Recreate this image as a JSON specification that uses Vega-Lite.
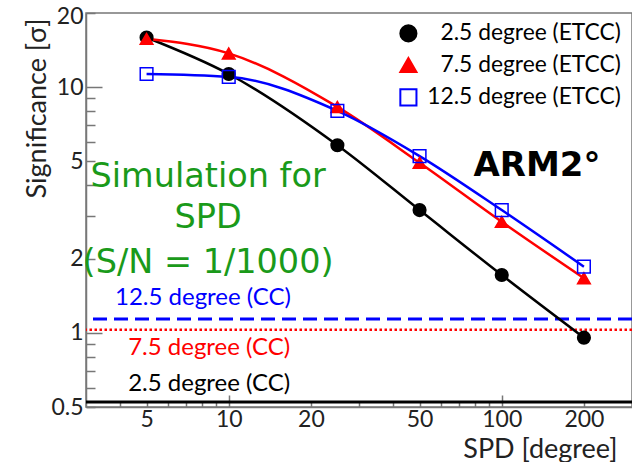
{
  "$schema": "https://vega.github.io/schema/vega-lite/v6.json",
  "width": 546,
  "height": 394,
  "autosize": {"type": "none"},
  "padding": {"left": 86, "top": 13, "right": 0, "bottom": 55},
  "background": "white",
  "config": {"view": {"stroke": "#777", "strokeWidth": 1.5}, "font": "Lato"},
  "datasets": {
    "etcc": [
      {"series": "2.5 degree (ETCC)", "spd": 5, "sig": 15.9},
      {"series": "2.5 degree (ETCC)", "spd": 10, "sig": 11.3},
      {"series": "2.5 degree (ETCC)", "spd": 25, "sig": 5.8},
      {"series": "2.5 degree (ETCC)", "spd": 50, "sig": 3.16},
      {"series": "2.5 degree (ETCC)", "spd": 100, "sig": 1.72},
      {"series": "2.5 degree (ETCC)", "spd": 200, "sig": 0.957},
      {"series": "7.5 degree (ETCC)", "spd": 5, "sig": 15.7},
      {"series": "7.5 degree (ETCC)", "spd": 10, "sig": 13.7},
      {"series": "7.5 degree (ETCC)", "spd": 25, "sig": 8.3},
      {"series": "7.5 degree (ETCC)", "spd": 50, "sig": 4.92},
      {"series": "7.5 degree (ETCC)", "spd": 100, "sig": 2.83},
      {"series": "7.5 degree (ETCC)", "spd": 200, "sig": 1.67},
      {"series": "12.5 degree (ETCC)", "spd": 5, "sig": 11.3},
      {"series": "12.5 degree (ETCC)", "spd": 10, "sig": 11.0},
      {"series": "12.5 degree (ETCC)", "spd": 25, "sig": 8.0},
      {"series": "12.5 degree (ETCC)", "spd": 50, "sig": 5.24},
      {"series": "12.5 degree (ETCC)", "spd": 100, "sig": 3.16},
      {"series": "12.5 degree (ETCC)", "spd": 200, "sig": 1.86}
    ],
    "cc": [
      {"series": "2.5 degree (CC)", "sig": 0.524, "labelSpd": 4.28, "labelSig": 0.62},
      {"series": "7.5 degree (CC)", "sig": 1.03, "labelSpd": 4.28, "labelSig": 0.869},
      {"series": "12.5 degree (CC)", "sig": 1.14, "labelSpd": 3.83, "labelSig": 1.39}
    ],
    "notes": [
      {"kind": "sim", "text": "Simulation for", "spd": 8.4, "sig": 4.31},
      {"kind": "sim", "text": "SPD", "spd": 8.4, "sig": 2.93},
      {"kind": "sim", "text": "(S/N = 1/1000)", "spd": 8.4, "sig": 1.92},
      {"kind": "arm", "text": "ARM2°", "spd": 134.6, "sig": 4.78}
    ]
  },
  "layer": [
    {
      "data": {"name": "cc"},
      "transform": [{"filter": "datum.series === '2.5 degree (CC)'"}],
      "mark": {"type": "rule", "color": "black", "strokeWidth": 3},
      "encoding": {"y": {"field": "sig", "type": "quantitative", "scale": {"type": "log", "domain": [0.5, 20]}}}
    },
    {
      "data": {"name": "cc"},
      "transform": [{"filter": "datum.series === '7.5 degree (CC)'"}],
      "mark": {"type": "rule", "color": "#ff0000", "strokeWidth": 2.5, "strokeDash": [2.5, 2.5]},
      "encoding": {"y": {"field": "sig", "type": "quantitative", "scale": {"type": "log", "domain": [0.5, 20]}}}
    },
    {
      "data": {"name": "cc"},
      "transform": [{"filter": "datum.series === '12.5 degree (CC)'"}],
      "mark": {"type": "rule", "color": "#0000ff", "strokeWidth": 3, "strokeDash": [14, 7]},
      "encoding": {"y": {"field": "sig", "type": "quantitative", "scale": {"type": "log", "domain": [0.5, 20]}}}
    },
    {
      "data": {"name": "etcc"},
      "transform": [{"filter": "datum.series === '2.5 degree (ETCC)'"}],
      "mark": {"type": "line", "interpolate": "monotone", "strokeWidth": 2.5, "color": "black"},
      "encoding": {
        "x": {"field": "spd", "type": "quantitative", "scale": {"type": "log", "domain": [3, 300]}},
        "y": {"field": "sig", "type": "quantitative", "scale": {"type": "log", "domain": [0.5, 20]}}
      }
    },
    {
      "data": {"name": "etcc"},
      "transform": [{"filter": "datum.series === '7.5 degree (ETCC)'"}],
      "mark": {"type": "line", "interpolate": "monotone", "strokeWidth": 2.5, "color": "#ff0000"},
      "encoding": {
        "x": {"field": "spd", "type": "quantitative", "scale": {"type": "log", "domain": [3, 300]}},
        "y": {"field": "sig", "type": "quantitative", "scale": {"type": "log", "domain": [0.5, 20]}}
      }
    },
    {
      "data": {"name": "etcc"},
      "transform": [{"filter": "datum.series === '12.5 degree (ETCC)'"}],
      "mark": {"type": "line", "interpolate": "monotone", "strokeWidth": 2.5, "color": "#0000ff"},
      "encoding": {
        "x": {"field": "spd", "type": "quantitative", "scale": {"type": "log", "domain": [3, 300]}},
        "y": {"field": "sig", "type": "quantitative", "scale": {"type": "log", "domain": [0.5, 20]}}
      }
    },
    {
      "data": {"name": "etcc"},
      "mark": {"type": "point", "size": 160, "strokeWidth": 1.5, "opacity": 1},
      "encoding": {
        "x": {"field": "spd", "type": "quantitative", "scale": {"type": "log", "domain": [3, 300]},
          "axis": {
            "values": [4, 5, 6, 7, 8, 9, 10, 20, 30, 40, 50, 60, 70, 80, 90, 100, 200],
            "format": "~g",
            "labelExpr": "(datum.value==5||datum.value==10||datum.value==20||datum.value==50||datum.value==100||datum.value==200)?datum.label:''",
            "tickSize": {"condition": {"test": "datum.value==10||datum.value==100", "value": -12}, "value": -6},
            "labelPadding": {"condition": {"test": "datum.value==10||datum.value==100", "value": 24}, "value": 18},
            "tickColor": "#777", "tickWidth": 1.5, "domainColor": "#777", "domainWidth": 1.5,
            "labelFontSize": 23, "labelColor": "#222", "labelBaseline": "middle",
            "labelFlush": false, "labelOverlap": false, "grid": false,
            "title": "SPD [degree]", "titleFontSize": 27, "titleFontWeight": "normal", "titleColor": "#222",
            "titleX": 531, "titleY": 42, "titleAlign": "right", "titleBaseline": "middle"
          }},
        "y": {"field": "sig", "type": "quantitative", "scale": {"type": "log", "domain": [0.5, 20]},
          "axis": {
            "values": [0.5, 0.6, 0.7, 0.8, 0.9, 1, 2, 3, 4, 5, 6, 7, 8, 9, 10, 20],
            "format": "~g",
            "labelExpr": "(datum.value==0.5||datum.value==1||datum.value==2||datum.value==5||datum.value==10||datum.value==20)?datum.label:''",
            "tickSize": {"condition": {"test": "datum.value==1||datum.value==10", "value": -16}, "value": -9},
            "labelPadding": {"condition": {"test": "datum.value==1||datum.value==10", "value": 19}, "value": 12},
            "labelOffset": {"condition": {"test": "datum.value==20", "value": 3}, "value": 0},
            "tickColor": "#777", "tickWidth": 1.5, "domainColor": "#777", "domainWidth": 1.5,
            "labelFontSize": 23, "labelColor": "#222",
            "labelFlush": false, "labelOverlap": false, "grid": false,
            "title": "Significance [σ]", "titleFontSize": 27, "titleFontWeight": "normal", "titleColor": "#222",
            "titleAngle": -90, "titleX": -49, "titleY": 5, "titleAlign": "right", "titleBaseline": "middle"
          }},
        "shape": {"field": "series", "type": "nominal",
          "scale": {"domain": ["2.5 degree (ETCC)", "7.5 degree (ETCC)", "12.5 degree (ETCC)"], "range": ["circle", "triangle-up", "square"]},
          "legend": {"title": null, "orient": "none", "legendX": 311, "legendY": 9,
            "symbolSize": 260, "symbolStrokeWidth": 2, "labelFontSize": 22.8, "labelAlign": "right", "labelOffset": 201,
            "labelLimit": 400, "rowPadding": 7.5,
            "encode": {"labels": {"update": {"fill": {"signal": "datum.value === '2.5 degree (ETCC)' ? 'black' : datum.value === '7.5 degree (ETCC)' ? '#ff0000' : '#0000ff'"}}}}}},
        "fill": {"field": "series", "type": "nominal",
          "scale": {"domain": ["2.5 degree (ETCC)", "7.5 degree (ETCC)", "12.5 degree (ETCC)"], "range": ["black", "#ff0000", "transparent"]}},
        "stroke": {"field": "series", "type": "nominal",
          "scale": {"domain": ["2.5 degree (ETCC)", "7.5 degree (ETCC)", "12.5 degree (ETCC)"], "range": ["black", "#ff0000", "#0000ff"]}}
      }
    },
    {
      "data": {"name": "notes"},
      "transform": [{"filter": "datum.kind === 'sim'"}],
      "mark": {"type": "text", "font": "DejaVu Sans", "fontSize": 33.5, "color": "#1a9a1a", "align": "center", "baseline": "middle"},
      "encoding": {
        "x": {"field": "spd", "type": "quantitative", "scale": {"type": "log", "domain": [3, 300]}},
        "y": {"field": "sig", "type": "quantitative", "scale": {"type": "log", "domain": [0.5, 20]}},
        "text": {"field": "text"}
      }
    },
    {
      "data": {"name": "notes"},
      "transform": [{"filter": "datum.kind === 'arm'"}],
      "mark": {"type": "text", "font": "DejaVu Sans", "fontWeight": "bold", "fontSize": 34, "color": "black", "align": "center", "baseline": "middle"},
      "encoding": {
        "x": {"field": "spd", "type": "quantitative", "scale": {"type": "log", "domain": [3, 300]}},
        "y": {"field": "sig", "type": "quantitative", "scale": {"type": "log", "domain": [0.5, 20]}},
        "text": {"field": "text"}
      }
    },
    {
      "data": {"name": "cc"},
      "transform": [{"filter": "datum.series === '12.5 degree (CC)'"}],
      "mark": {"type": "text", "fontSize": 24, "color": "#0000ff", "align": "left", "baseline": "middle"},
      "encoding": {
        "x": {"field": "labelSpd", "type": "quantitative", "scale": {"type": "log", "domain": [3, 300]}},
        "y": {"field": "labelSig", "type": "quantitative", "scale": {"type": "log", "domain": [0.5, 20]}},
        "text": {"field": "series"}
      }
    },
    {
      "data": {"name": "cc"},
      "transform": [{"filter": "datum.series === '7.5 degree (CC)'"}],
      "mark": {"type": "text", "fontSize": 24, "color": "#ff0000", "align": "left", "baseline": "middle"},
      "encoding": {
        "x": {"field": "labelSpd", "type": "quantitative", "scale": {"type": "log", "domain": [3, 300]}},
        "y": {"field": "labelSig", "type": "quantitative", "scale": {"type": "log", "domain": [0.5, 20]}},
        "text": {"field": "series"}
      }
    },
    {
      "data": {"name": "cc"},
      "transform": [{"filter": "datum.series === '2.5 degree (CC)'"}],
      "mark": {"type": "text", "fontSize": 24, "color": "black", "align": "left", "baseline": "middle"},
      "encoding": {
        "x": {"field": "labelSpd", "type": "quantitative", "scale": {"type": "log", "domain": [3, 300]}},
        "y": {"field": "labelSig", "type": "quantitative", "scale": {"type": "log", "domain": [0.5, 20]}},
        "text": {"field": "series"}
      }
    }
  ]
}
